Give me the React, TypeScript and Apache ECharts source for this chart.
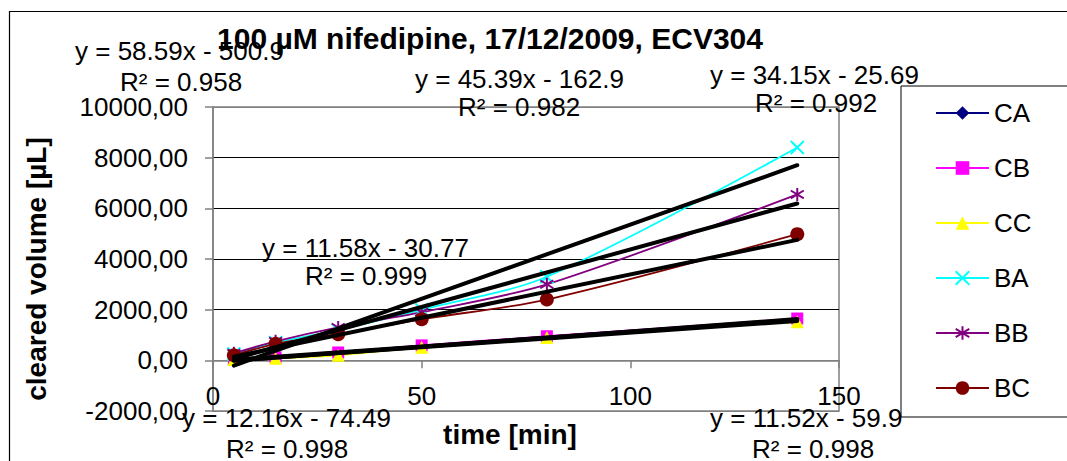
import React, { useEffect, useRef } from "react";
import * as echarts from "echarts";

// ---- data ----
const TIME = [5, 15, 30, 50, 80, 140];
const SERIES_NAMES = ["CA", "CB", "CC", "BA", "BB", "BC"];
const CA = [40, 150, 280, 560, 930, 1620];
const CB = [20, 120, 310, 590, 950, 1650];
const CC = [30, 80, 200, 520, 900, 1520];
const BA = [250, 700, 1200, 2000, 3300, 8400];
const BB = [280, 750, 1300, 1900, 3000, 6550];
const BC = [200, 650, 1030, 1620, 2400, 4980];

// trendlines (linear, as printed on chart)
const TREND_OF = ["BA", "BB", "BC", "CA", "CB", "CC"];
const SLOPES = [58.59, 45.39, 34.15, 11.58, 12.16, 11.52];
const INTERCEPTS = [-500.9, -162.9, -25.69, -30.77, -74.49, -59.9];
const R2 = ["0.958", "0.982", "0.992", "0.999", "0.998", "0.998"];
const TREND_RANGE = [5, 140];

const Y_TICKS_MIN = -2000;
const Y_TICKS_MAX = 10000;

const FONT = "'Liberation Sans', Arial, sans-serif";

export default function App() {
  const ref = useRef<HTMLDivElement>(null);

  useEffect(() => {
    if (!ref.current) return;
    const chart = echarts.init(ref.current, undefined, { renderer: "svg" });

    const xPath = "path://M0,0L10,10M10,0L0,10";
    const starPath = "path://M5,0L5,10M0.8,2L9.2,8M9.2,2L0.8,8";

    const valuesByName: Record<string, number[]> = { CA, CB, CC, BA, BB, BC };
    const styleByName: Record<string, any> = {
      CA: { color: "#000080", symbol: "diamond", size: 12 },
      CB: { color: "#FF00FF", symbol: "rect", size: 12 },
      CC: { color: "#FFFF00", symbol: "triangle", size: 13 },
      BA: { color: "#00FFFF", symbol: xPath, size: 13, stroke: true },
      BB: { color: "#800080", symbol: starPath, size: 13, stroke: true },
      BC: { color: "#800000", symbol: "circle", size: 14 },
    };

    const dataSeries = SERIES_NAMES.map((name) => {
      const st = styleByName[name];
      return {
        name,
        type: "line",
        xAxisIndex: 0,
        yAxisIndex: 0,
        data: TIME.map((t, i) => [t, valuesByName[name][i]]),
        smooth: 0.3,
        symbol: st.symbol,
        symbolSize: st.size,
        lineStyle: { color: st.color, width: 1.8 },
        itemStyle: st.stroke
          ? { color: st.color, borderColor: st.color, borderWidth: 2 }
          : { color: st.color, borderWidth: 0 },
        z: 3,
      };
    });

    const trendSeries = TREND_OF.map((name, i) => ({
      name: "trend " + name,
      type: "line",
      data: TREND_RANGE.map((x) => [x, SLOPES[i] * x + INTERCEPTS[i]]),
      symbol: "none",
      lineStyle: { color: "#000", width: 4, cap: "round" },
      silent: true,
      z: 5,
    }));

    const labelPos = [
      [75, 51, 120, 82],
      [415, 79, 458, 107],
      [710, 75, 755, 103],
      [262, 248, 305, 276],
      [182, 418, 226, 449],
      [710, 418, 752, 449],
    ];

    const eqTexts: any[] = [];
    TREND_OF.forEach((_, i) => {
      const p = labelPos[i];
      const sign = INTERCEPTS[i] < 0 ? "-" : "+";
      eqTexts.push({
        type: "text",
        x: p[0],
        y: p[1],
        z: 20,
        style: {
          text: `y = ${SLOPES[i]}x ${sign} ${Math.abs(INTERCEPTS[i])}`,
          font: `26px ${FONT}`,
          fill: "#000",
          textAlign: "left",
          textVerticalAlign: "middle",
        },
      });
      eqTexts.push({
        type: "text",
        x: p[2],
        y: p[3],
        z: 20,
        style: {
          text: `R² = ${R2[i]}`,
          font: `26px ${FONT}`,
          fill: "#000",
          textAlign: "left",
          textVerticalAlign: "middle",
        },
      });
    });

    const splitColors = ["#808080", "#808080", "#000", "#000", "#000", "#000", "#808080"];

    chart.setOption({
      animation: false,
      backgroundColor: "#fff",
      textStyle: { fontFamily: FONT },
      grid: {
        left: 213,
        right: 228,
        top: 107,
        bottom: 50,
        show: true,
        borderColor: "#808080",
        borderWidth: 1.5,
        backgroundColor: "transparent",
      },
      legend: {
        data: SERIES_NAMES,
        orient: "vertical",
        left: 901,
        top: 86,
        padding: [12, 90, 14, 34],
        itemWidth: 53,
        itemHeight: 17,
        itemGap: 25,
        borderColor: "#000",
        borderWidth: 1,
        backgroundColor: "#fff",
        textStyle: { fontSize: 26, color: "#000", fontFamily: FONT, lineHeight: 30 },
      },
      xAxis: [
        {
          type: "value",
          min: 0,
          max: 150,
          interval: 50,
          position: "bottom",
          axisLine: { show: true, onZero: true, lineStyle: { color: "#808080", width: 1.5 } },
          axisTick: { show: true, length: 8, lineStyle: { color: "#808080", width: 1.5 } },
          axisLabel: { show: false },
          splitLine: { show: false },
        },
        {
          type: "value",
          min: 0,
          max: 150,
          interval: 50,
          position: "bottom",
          axisLine: { show: false, onZero: false },
          axisTick: { show: false },
          axisLabel: { show: true, margin: -28, fontSize: 26, color: "#000", fontFamily: FONT },
          splitLine: { show: false },
        },
      ],
      yAxis: {
        type: "value",
        min: Y_TICKS_MIN,
        max: Y_TICKS_MAX,
        interval: 2000,
        axisLine: { show: true, lineStyle: { color: "#808080", width: 1.5 } },
        axisTick: { show: true, length: 8, lineStyle: { color: "#808080", width: 1.5 } },
        axisLabel: {
          margin: 25,
          fontSize: 26,
          color: "#000",
          fontFamily: FONT,
          formatter: (v: number) => v.toFixed(2).replace(".", ","),
        },
        splitLine: { show: true, lineStyle: { color: splitColors, width: 1 } },
      },
      graphic: [
        {
          type: "rect",
          shape: { x: 9.5, y: 11.5, width: 1200, height: 600 },
          style: { fill: "none", stroke: "#000", lineWidth: 1.2 },
          z: -10,
          silent: true,
        },
        {
          type: "text",
          x: 490,
          y: 38,
          z: 20,
          style: {
            text: "100 µM nifedipine, 17/12/2009, ECV304",
            font: `bold 30px ${FONT}`,
            fill: "#000",
            textAlign: "center",
            textVerticalAlign: "middle",
          },
        },
        {
          type: "text",
          x: 510,
          y: 434,
          z: 20,
          style: {
            text: "time [min]",
            font: `bold 28px ${FONT}`,
            fill: "#000",
            textAlign: "center",
            textVerticalAlign: "middle",
          },
        },
        {
          type: "text",
          x: 36,
          y: 269,
          rotation: Math.PI / 2,
          z: 20,
          style: {
            text: "cleared volume [µL]",
            font: `bold 28px ${FONT}`,
            fill: "#000",
            textAlign: "center",
            textVerticalAlign: "middle",
          },
        },
        ...eqTexts,
      ],
      series: [...dataSeries, ...trendSeries],
    });

    return () => chart.dispose();
  }, []);

  return (
    <div
      ref={ref}
      style={{ position: "absolute", left: 0, top: 0, width: 1067, height: 461 }}
    />
  );
}
